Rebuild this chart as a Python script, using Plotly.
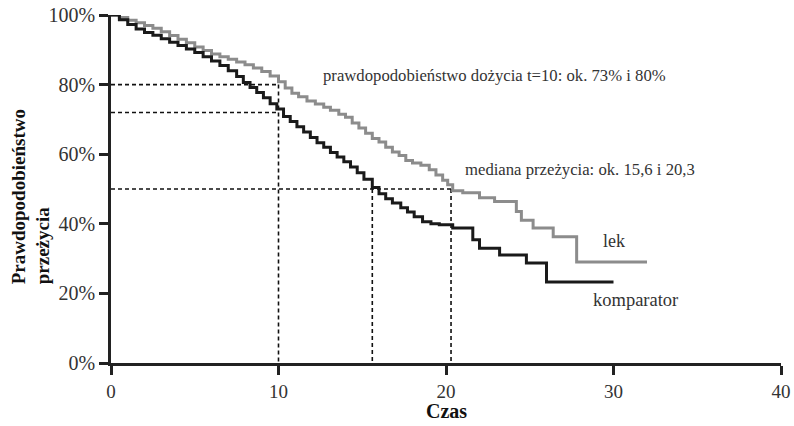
import plotly.graph_objects as go

# Kaplan-Meier curves (time, survival %)
lek_t = [0, 0.5, 1.0, 1.5, 2.0, 2.5, 3.0, 3.5, 4.0, 4.5, 5.0, 5.5, 6.0, 6.5, 7.0, 7.5, 8.0, 8.5, 9.0, 9.5,
         10.0, 10.4, 10.8, 11.2, 11.7, 12.2, 12.7, 13.1, 13.6, 14.0, 14.4, 14.8, 15.2, 15.6, 16.0, 16.4,
         16.8, 17.2, 17.6, 18.0, 18.5, 19.0, 19.4, 19.8, 20.1, 20.4, 21.0, 22.0, 22.9, 24.2, 24.5, 25.2,
         26.4, 27.8, 32.0]
lek_s = [100, 99.3, 98.5, 97.8, 97, 96.2, 95.2, 94.1, 93, 92, 90.8, 89.8, 88.8, 88, 87.3, 86.5, 85.7, 84.8, 83.8, 82.5,
         80.8, 79, 77.5, 76.5, 75.3, 74.4, 73.5, 72.6, 71.5, 70.6, 69, 67.5, 66, 64.5, 63.5, 62,
         60.6, 59.6, 58.2, 57.5, 56.8, 55.5, 54, 52.5, 51.2, 49.5, 48.9, 47.5, 46.4, 43.5, 41, 38.8,
         36.3, 29, 29]

kom_t = [0, 0.5, 1.0, 1.5, 2.0, 2.5, 3.0, 3.5, 4.0, 4.5, 5.0, 5.5, 6.0, 6.5, 7.0, 7.5, 7.9, 8.3, 8.7, 9.1,
         9.5, 9.9, 10.3, 10.7, 11.1, 11.5, 11.9, 12.3, 12.7, 13.1, 13.5, 13.9, 14.3, 14.7, 15.1, 15.6,
         16.0, 16.4, 16.8, 17.3, 17.7, 18.1, 18.6, 19.1, 19.6, 20.4, 21.6, 22.0, 23.2, 24.8, 26.0, 30.0]
kom_s = [100, 98.6, 97.3, 96, 95, 94.2, 93.2, 92.2, 91.2, 90.2, 89.2, 88, 86.8, 85.5, 84, 82.3, 80.6, 79.2, 77.7, 76.2,
         74.5, 73, 70.8, 69.4, 67.9, 66.4, 64.8, 63.3, 62, 60.5, 59.2, 57.8, 56.3, 54.7, 52.8, 50.4,
         48.6, 47.2, 46, 44.6, 43.4, 42, 40.6, 40, 39.7, 38.8, 35.4, 33, 31, 28.7, 23.3, 23.3]

# reference values
t_ref = 10
s_lek_ref = 80
s_kom_ref = 72
median_level = 50
med_kom = 15.6
med_lek = 20.3

x_ticks = [0, 10, 20, 30, 40]
y_ticks = [0, 20, 40, 60, 80, 100]
y_tick_labels = ["0%", "20%", "40%", "60%", "80%", "100%"]

FONT = "Liberation Serif, Times New Roman, serif"
TXT = "#333333"

fig = go.Figure()

dash = "4px,3px"
ref_lines = [
    ([0, t_ref], [s_lek_ref, s_lek_ref]),
    ([0, t_ref], [s_kom_ref, s_kom_ref]),
    ([t_ref, t_ref], [s_lek_ref, 0]),
    ([0, med_lek], [median_level, median_level]),
    ([med_kom, med_kom], [median_level, 0]),
    ([med_lek, med_lek], [median_level, 0]),
]
for xs, ys in ref_lines:
    fig.add_trace(go.Scatter(x=xs, y=ys, mode="lines", showlegend=False, hoverinfo="skip",
                             line=dict(color="#111111", width=1.6, dash=dash)))

fig.add_trace(go.Scatter(x=lek_t, y=lek_s, mode="lines", line_shape="hv", name="lek",
                         line=dict(color="#8c8c8c", width=3), showlegend=False, cliponaxis=False))
fig.add_trace(go.Scatter(x=kom_t, y=kom_s, mode="lines", line_shape="hv", name="komparator",
                         line=dict(color="#1a1a1a", width=3), showlegend=False, cliponaxis=False))

anns = [
    dict(x=22.9, y=82.6, text="prawdopodobieństwo dożycia t=10: ok. 73% i 80%", size=16.7),
    dict(x=28.0, y=55.5, text="mediana przeżycia: ok. 15,6 i 20,3", size=16.7),
    dict(x=30.0, y=35.1, text="lek", size=18),
    dict(x=31.3, y=18.1, text="komparator", size=18.5),
]
for a in anns:
    fig.add_annotation(x=a["x"], y=a["y"], xref="x", yref="y", text=a["text"], showarrow=False,
                       xanchor="center", yanchor="middle",
                       font=dict(family=FONT, size=a["size"], color=TXT))

fig.add_annotation(x=0, y=0.219, xref="paper", yref="paper", xanchor="center", yanchor="bottom",
                   xshift=-80, textangle=-90, align="left", showarrow=False,
                   text="<b>Prawdopodobieństwo</b><br><b>przeżycia</b>",
                   font=dict(family=FONT, size=19, color="#111111"))
fig.add_annotation(x=20, y=-0.138, xref="x", yref="paper", xanchor="center", yanchor="middle",
                   showarrow=False, text="<b>Czas</b>",
                   font=dict(family=FONT, size=20, color="#111111"))

fig.update_layout(
    width=794, height=426,
    margin=dict(l=111, r=13, t=15, b=63, autoexpand=False),
    paper_bgcolor="white", plot_bgcolor="white",
    showlegend=False,
)
fig.update_xaxes(range=[0, 40], tickvals=x_ticks, ticktext=[str(v) for v in x_ticks],
                 showgrid=False, zeroline=False, showline=True, linecolor="#222222", linewidth=2.5,
                 ticks="outside", ticklen=9, tickwidth=2.5, tickcolor="#222222", automargin=False,
                 tickfont=dict(family=FONT, size=19, color=TXT))
fig.update_yaxes(range=[0, 100], tickvals=y_ticks, ticktext=y_tick_labels,
                 showgrid=False, zeroline=False, showline=True, linecolor="#222222", linewidth=2.5,
                 ticks="outside", ticklen=9, tickwidth=2.5, tickcolor="#222222", automargin=False,
                 tickfont=dict(family=FONT, size=20, color=TXT))

fig.write_html("out.html")
